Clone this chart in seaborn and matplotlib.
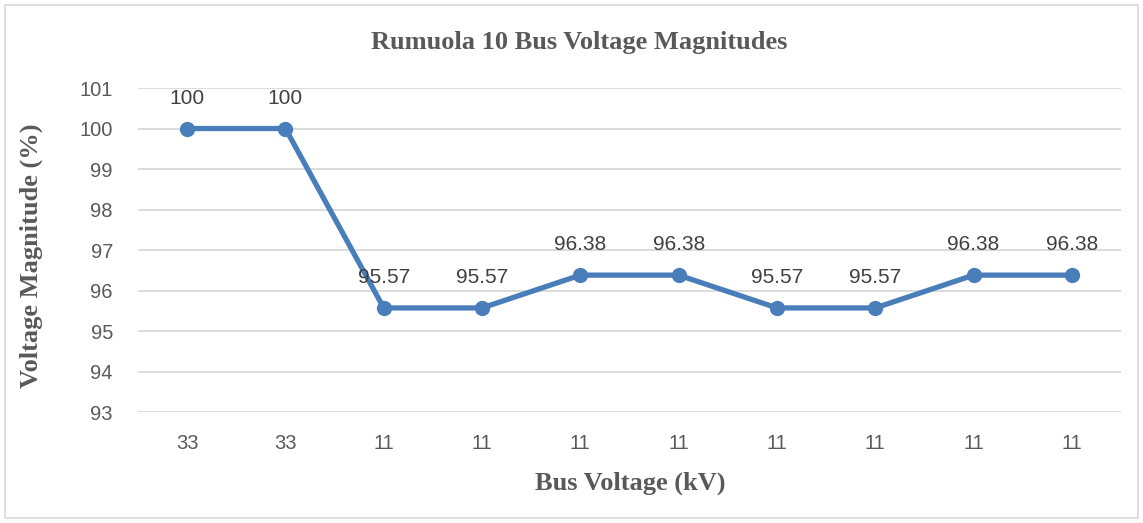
import numpy as np
import pandas as pd
import seaborn as sns
import matplotlib.pyplot as plt
from matplotlib.patches import Rectangle

# bus data
bus_kv = ["33", "33", "11", "11", "11", "11", "11", "11", "11", "11"]
voltage_pct = [100, 100, 95.57, 95.57, 96.38, 96.38, 95.57, 95.57, 96.38, 96.38]
point_labels = ["100", "100", "95.57", "95.57", "96.38", "96.38", "95.57", "95.57", "96.38", "96.38"]
y_ticks = [93, 94, 95, 96, 97, 98, 99, 100, 101]

df = pd.DataFrame({"bus": np.arange(len(bus_kv)), "voltage": voltage_pct})

sns.set_style("white")
plt.rcParams['font.family'] = ['Liberation Sans', 'DejaVu Sans']

fig = plt.figure(figsize=(11.43, 5.23), dpi=100)
ax = fig.add_axes([0.1207, 0.2122, 0.8601, 0.6195])

line_col = "#4a7ebb"
sns.lineplot(data=df, x="bus", y="voltage", ax=ax, color=line_col, linewidth=3.8,
             marker="o", markersize=11, markeredgewidth=0, zorder=3)

for xi, yi, lab in zip(df["bus"], df["voltage"], point_labels):
    ax.annotate(lab, (xi, yi), xytext=(0, 15), textcoords="offset points",
                ha="center", va="bottom", fontsize=15, color="#404040")

ax.set_xlim(-0.5, len(bus_kv) - 0.5)
ax.set_ylim(93, 101)
ax.set_yticks(y_ticks)
ax.set_xticks(df["bus"])
ax.set_xticklabels(bus_kv)
ax.tick_params(axis="both", length=0, labelsize=14.5, labelcolor="#595959")
ax.tick_params(axis="x", pad=16)
ax.tick_params(axis="y", pad=18)
ax.grid(axis="y", color="#d9d9d9", linewidth=1.3)
for s in ax.spines.values():
    s.set_visible(False)

ax.set_xlabel("")
ax.set_ylabel("")
serif = dict(family="Liberation Serif", fontweight="bold", fontsize=19, color="#595959",
             ha="center", va="center")
fig.text(0.5066, 1 - 42 / 523, "Rumuola 10 Bus Voltage Magnitudes", **serif)
fig.text(0.551, 1 - 483 / 523, "Bus Voltage (kV)", **serif)
fig.text(31 / 1143, 1 - 256 / 523, "Voltage Magnitude (%)", rotation=90, **serif)

fig.patches.append(Rectangle((5 / 1143, 5 / 523), 1 - 10 / 1143, 1 - 10 / 523,
                             transform=fig.transFigure, fill=False,
                             edgecolor="#d9d9d9", linewidth=1.2))

fig.savefig("out.png", dpi=100)
